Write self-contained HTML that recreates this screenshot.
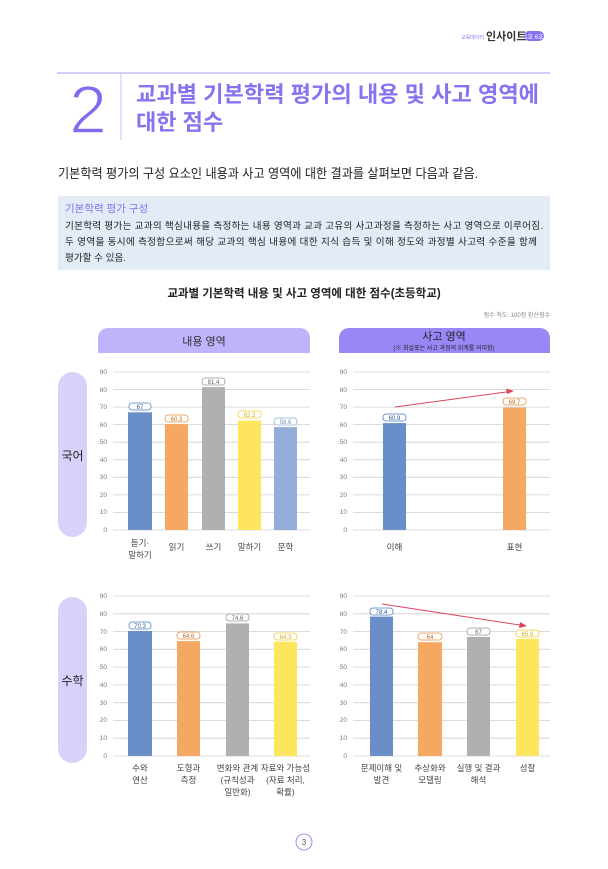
<!DOCTYPE html>
<html><head><meta charset="utf-8"><style>
html,body{margin:0;padding:0;background:#fff;}
svg{display:block;font-family:"Liberation Sans","Noto Sans CJK KR",sans-serif;}
</style></head><body>
<svg width="608" height="869" viewBox="0 0 608 869" xmlns="http://www.w3.org/2000/svg">
<rect width="608" height="869" fill="#fff"/>
<text x="484" y="39" font-size="5" fill="#8673f0" text-anchor="end">교육데이터</text>
<text x="486" y="40" font-size="11" font-weight="bold" fill="#333">인사이트</text>
<rect x="524" y="31" width="20" height="10" rx="5" fill="#8673f0"/>
<text x="534" y="39" font-size="6" fill="#fff" text-anchor="middle">1호 6호</text>
<line x1="57" y1="73" x2="550" y2="73" stroke="#a99cf2" stroke-width="1"/>
<line x1="121" y1="73" x2="121" y2="140" stroke="#c9c0f5" stroke-width="1"/>
<text x="88" y="133" font-size="68" fill="#7f6cef" stroke="#fff" stroke-width="1.6" text-anchor="middle">2</text>
<text x="136" y="102" font-size="22" font-weight="bold" fill="#8673f0" textLength="403" lengthAdjust="spacingAndGlyphs">교과별 기본학력 평가의 내용 및 사고 영역에</text>
<text x="136" y="130" font-size="22" font-weight="bold" fill="#8673f0">대한 점수</text>
<text x="58" y="178" font-size="13" fill="#222" textLength="420" lengthAdjust="spacingAndGlyphs">기본학력 평가의 구성 요소인 내용과 사고 영역에 대한 결과를 살펴보면 다음과 같음.</text>
<rect x="58" y="196" width="492" height="74" fill="#e3ebf6"/>
<text x="65" y="212" font-size="10.5" fill="#8673f0">기본학력 평가 구성</text>
<text x="65" y="229" font-size="9.6" fill="#222" textLength="478">기본학력 평가는 교과의 핵심내용을 측정하는 내용 영역과 교과 고유의 사고과정을 측정하는 사고 영역으로 이루어짐.</text>
<text x="65" y="245" font-size="9.6" fill="#222" textLength="472">두 영역을 동시에 측정함으로써 해당 교과의 핵심 내용에 대한 지식 습득 및 이해 정도와 과정별 사고력 수준을 함께</text>
<text x="65" y="261" font-size="9.6" fill="#222">평가할 수 있음.</text>
<text x="304" y="297" font-size="11.5" font-weight="bold" fill="#222" text-anchor="middle">교과별 기본학력 내용 및 사고 영역에 대한 점수(초등학교)</text>
<text x="550" y="317" font-size="6" fill="#888" text-anchor="end">점수 척도: 100점 환산점수</text>
<path d="M98 353 V338 a10 10 0 0 1 10 -10 H300 a10 10 0 0 1 10 10 V353 Z" fill="#bdb4fb"/>
<text x="204" y="345" font-size="11" fill="#333" text-anchor="middle">내용 영역</text>
<path d="M339 353 V338 a10 10 0 0 1 10 -10 H540 a10 10 0 0 1 10 10 V353 Z" fill="#9a87f6"/>
<text x="444" y="340" font-size="11" fill="#222" text-anchor="middle">사고 영역</text>
<text x="444" y="350" font-size="6" fill="#222" text-anchor="middle">(※ 화살표는 사고 과정의 위계를 의미함)</text>
<rect x="58" y="372" width="29" height="165" rx="14.5" fill="#d8d2fb"/>
<text x="72.5" y="460" font-size="12" fill="#222" text-anchor="middle">국어</text>
<rect x="58" y="597" width="29" height="166" rx="14.5" fill="#d8d2fb"/>
<text x="72.5" y="685" font-size="12" fill="#222" text-anchor="middle">수학</text>
<g stroke="#d0d0d0" stroke-width="0.8">
<line x1="113" x2="310" y1="372" y2="372"/><line x1="113" x2="310" y1="389.5" y2="389.5"/><line x1="113" x2="310" y1="407.1" y2="407.1"/><line x1="113" x2="310" y1="424.6" y2="424.6"/><line x1="113" x2="310" y1="442.2" y2="442.2"/><line x1="113" x2="310" y1="459.8" y2="459.8"/><line x1="113" x2="310" y1="477.3" y2="477.3"/><line x1="113" x2="310" y1="494.9" y2="494.9"/><line x1="113" x2="310" y1="512.4" y2="512.4"/><line x1="113" x2="310" y1="530" y2="530"/>
<line x1="353" x2="550" y1="372" y2="372"/><line x1="353" x2="550" y1="389.5" y2="389.5"/><line x1="353" x2="550" y1="407.1" y2="407.1"/><line x1="353" x2="550" y1="424.6" y2="424.6"/><line x1="353" x2="550" y1="442.2" y2="442.2"/><line x1="353" x2="550" y1="459.8" y2="459.8"/><line x1="353" x2="550" y1="477.3" y2="477.3"/><line x1="353" x2="550" y1="494.9" y2="494.9"/><line x1="353" x2="550" y1="512.4" y2="512.4"/><line x1="353" x2="550" y1="530" y2="530"/>
<line x1="113" x2="310" y1="596" y2="596"/><line x1="113" x2="310" y1="613.8" y2="613.8"/><line x1="113" x2="310" y1="631.5" y2="631.5"/><line x1="113" x2="310" y1="649.3" y2="649.3"/><line x1="113" x2="310" y1="667.1" y2="667.1"/><line x1="113" x2="310" y1="684.9" y2="684.9"/><line x1="113" x2="310" y1="702.7" y2="702.7"/><line x1="113" x2="310" y1="720.4" y2="720.4"/><line x1="113" x2="310" y1="738.2" y2="738.2"/><line x1="113" x2="310" y1="756" y2="756"/>
<line x1="353" x2="550" y1="596" y2="596"/><line x1="353" x2="550" y1="613.8" y2="613.8"/><line x1="353" x2="550" y1="631.5" y2="631.5"/><line x1="353" x2="550" y1="649.3" y2="649.3"/><line x1="353" x2="550" y1="667.1" y2="667.1"/><line x1="353" x2="550" y1="684.9" y2="684.9"/><line x1="353" x2="550" y1="702.7" y2="702.7"/><line x1="353" x2="550" y1="720.4" y2="720.4"/><line x1="353" x2="550" y1="738.2" y2="738.2"/><line x1="353" x2="550" y1="756" y2="756"/>
</g>
<g font-size="6.5" fill="#777" text-anchor="end">
<text x="107" y="374">90</text><text x="107" y="392">80</text><text x="107" y="409">70</text><text x="107" y="427">60</text><text x="107" y="444">50</text><text x="107" y="462">40</text><text x="107" y="479">30</text><text x="107" y="497">20</text><text x="107" y="514">10</text><text x="107" y="532">0</text>
<text x="347" y="374">90</text><text x="347" y="392">80</text><text x="347" y="409">70</text><text x="347" y="427">60</text><text x="347" y="444">50</text><text x="347" y="462">40</text><text x="347" y="479">30</text><text x="347" y="497">20</text><text x="347" y="514">10</text><text x="347" y="532">0</text>
<text x="107" y="598">90</text><text x="107" y="616">80</text><text x="107" y="634">70</text><text x="107" y="651">60</text><text x="107" y="669">50</text><text x="107" y="687">40</text><text x="107" y="705">30</text><text x="107" y="722">20</text><text x="107" y="740">10</text><text x="107" y="758">0</text>
<text x="347" y="598">90</text><text x="347" y="616">80</text><text x="347" y="634">70</text><text x="347" y="651">60</text><text x="347" y="669">50</text><text x="347" y="687">40</text><text x="347" y="705">30</text><text x="347" y="722">20</text><text x="347" y="740">10</text><text x="347" y="758">0</text>
</g>
<rect x="128" y="412.3" width="24" height="117.7" fill="#6a8fc8"/>
<rect x="165" y="424.1" width="23" height="105.9" fill="#f5a862"/>
<rect x="202" y="387.1" width="23" height="142.9" fill="#b0b0b0"/>
<rect x="238" y="420.6" width="23" height="109.4" fill="#fde65e"/>
<rect x="274" y="427.1" width="23" height="102.9" fill="#94acd8"/>
<rect x="383" y="423.1" width="23" height="106.9" fill="#6a8fc8"/>
<rect x="503" y="407.6" width="23" height="122.4" fill="#f5a862"/>
<rect x="128" y="631" width="24" height="125" fill="#6a8fc8"/>
<rect x="177" y="641.1" width="23" height="114.9" fill="#f5a862"/>
<rect x="226" y="623.4" width="23" height="132.6" fill="#b0b0b0"/>
<rect x="274" y="641.7" width="23" height="114.3" fill="#fde65e"/>
<rect x="370" y="616.6" width="23" height="139.4" fill="#6a8fc8"/>
<rect x="418" y="642.2" width="24" height="113.8" fill="#f5a862"/>
<rect x="467" y="636.9" width="23" height="119.1" fill="#b0b0b0"/>
<rect x="516" y="638.8" width="23" height="117.2" fill="#fde65e"/>
<g font-size="6" text-anchor="middle" stroke-width="0.8">
<rect x="129" y="403" width="22" height="7" rx="3" fill="#fff" stroke="#4a7fc0"/><text x="140" y="409" fill="#2a5a9a" stroke="none">67</text>
<rect x="165" y="415" width="23" height="7" rx="3" fill="#fff" stroke="#e89040"/><text x="176.5" y="421" fill="#c07020" stroke="none">60.3</text>
<rect x="202" y="378" width="23" height="7" rx="3" fill="#fff" stroke="#999"/><text x="213.5" y="384" fill="#666" stroke="none">81.4</text>
<rect x="238" y="411" width="23" height="7" rx="3" fill="#fff" stroke="#f0d030"/><text x="249.5" y="417" fill="#d0b020" stroke="none">62.3</text>
<rect x="274" y="418" width="23" height="7" rx="3" fill="#fff" stroke="#94acd8"/><text x="285.5" y="424" fill="#7090c0" stroke="none">58.6</text>
<rect x="383" y="414" width="23" height="7" rx="3" fill="#fff" stroke="#4a7fc0"/><text x="394.5" y="420" fill="#2a5a9a" stroke="none">60.9</text>
<rect x="503" y="398" width="23" height="7" rx="3" fill="#fff" stroke="#e89040"/><text x="514.5" y="404" fill="#c07020" stroke="none">69.7</text>
<rect x="129" y="622" width="22" height="7" rx="3" fill="#fff" stroke="#4a7fc0"/><text x="140" y="628" fill="#2a5a9a" stroke="none">70.3</text>
<rect x="177" y="632" width="23" height="7" rx="3" fill="#fff" stroke="#e89040"/><text x="188.5" y="638" fill="#c07020" stroke="none">64.6</text>
<rect x="226" y="614" width="23" height="7" rx="3" fill="#fff" stroke="#999"/><text x="237.5" y="620" fill="#666" stroke="none">74.6</text>
<rect x="274" y="633" width="23" height="7" rx="3" fill="#fff" stroke="#f0d030"/><text x="285.5" y="639" fill="#d0b020" stroke="none">64.3</text>
<rect x="370" y="608" width="23" height="7" rx="3" fill="#fff" stroke="#4a7fc0"/><text x="381.5" y="614" fill="#2a5a9a" stroke="none">78.4</text>
<rect x="418" y="633" width="24" height="7" rx="3" fill="#fff" stroke="#e89040"/><text x="430" y="639" fill="#c07020" stroke="none">64</text>
<rect x="467" y="628" width="23" height="7" rx="3" fill="#fff" stroke="#999"/><text x="478.5" y="634" fill="#666" stroke="none">67</text>
<rect x="516" y="630" width="23" height="7" rx="3" fill="#fff" stroke="#f0d030"/><text x="527.5" y="636" fill="#d0b020" stroke="none">65.9</text>
</g>
<line x1="395" y1="407" x2="510" y2="391.5" stroke="#d9465f" stroke-width="1"/>
<polygon points="514,391 506,388.5 507,394" fill="#d9465f"/>
<line x1="382" y1="604" x2="523" y2="625.5" stroke="#d9465f" stroke-width="1"/>
<polygon points="527,626 520,622 519,628" fill="#d9465f"/>
<g font-size="8.5" fill="#444" text-anchor="middle">
<text x="140" y="546">듣기·</text><text x="140" y="558">말하기</text>
<text x="176.5" y="550">읽기</text><text x="213.5" y="550">쓰기</text><text x="249.5" y="550">말하기</text><text x="285.5" y="550">문학</text>
<text x="394.5" y="550">이해</text><text x="514.5" y="550">표현</text>
<text x="140" y="771">수와</text><text x="140" y="783">연산</text>
<text x="188.5" y="771">도형과</text><text x="188.5" y="783">측정</text>
<text x="237.5" y="771">변화와 관계</text><text x="237.5" y="783">(규칙성과</text><text x="237.5" y="795">일반화)</text>
<text x="285.5" y="771">자료와 가능성</text><text x="285.5" y="783">(자료 처리,</text><text x="285.5" y="795">확률)</text>
<text x="381.5" y="771">문제이해 및</text><text x="381.5" y="783">발견</text>
<text x="430" y="771">추상화와</text><text x="430" y="783">모델링</text>
<text x="478.5" y="771">실행 및 결과</text><text x="478.5" y="783">해석</text>
<text x="527.5" y="771">성찰</text>
</g>
<circle cx="304" cy="842" r="8" fill="#fff" stroke="#8673f0" stroke-width="0.8"/>
<text x="304" y="845" font-size="8" fill="#555" text-anchor="middle">3</text>
</svg>
</body></html>
